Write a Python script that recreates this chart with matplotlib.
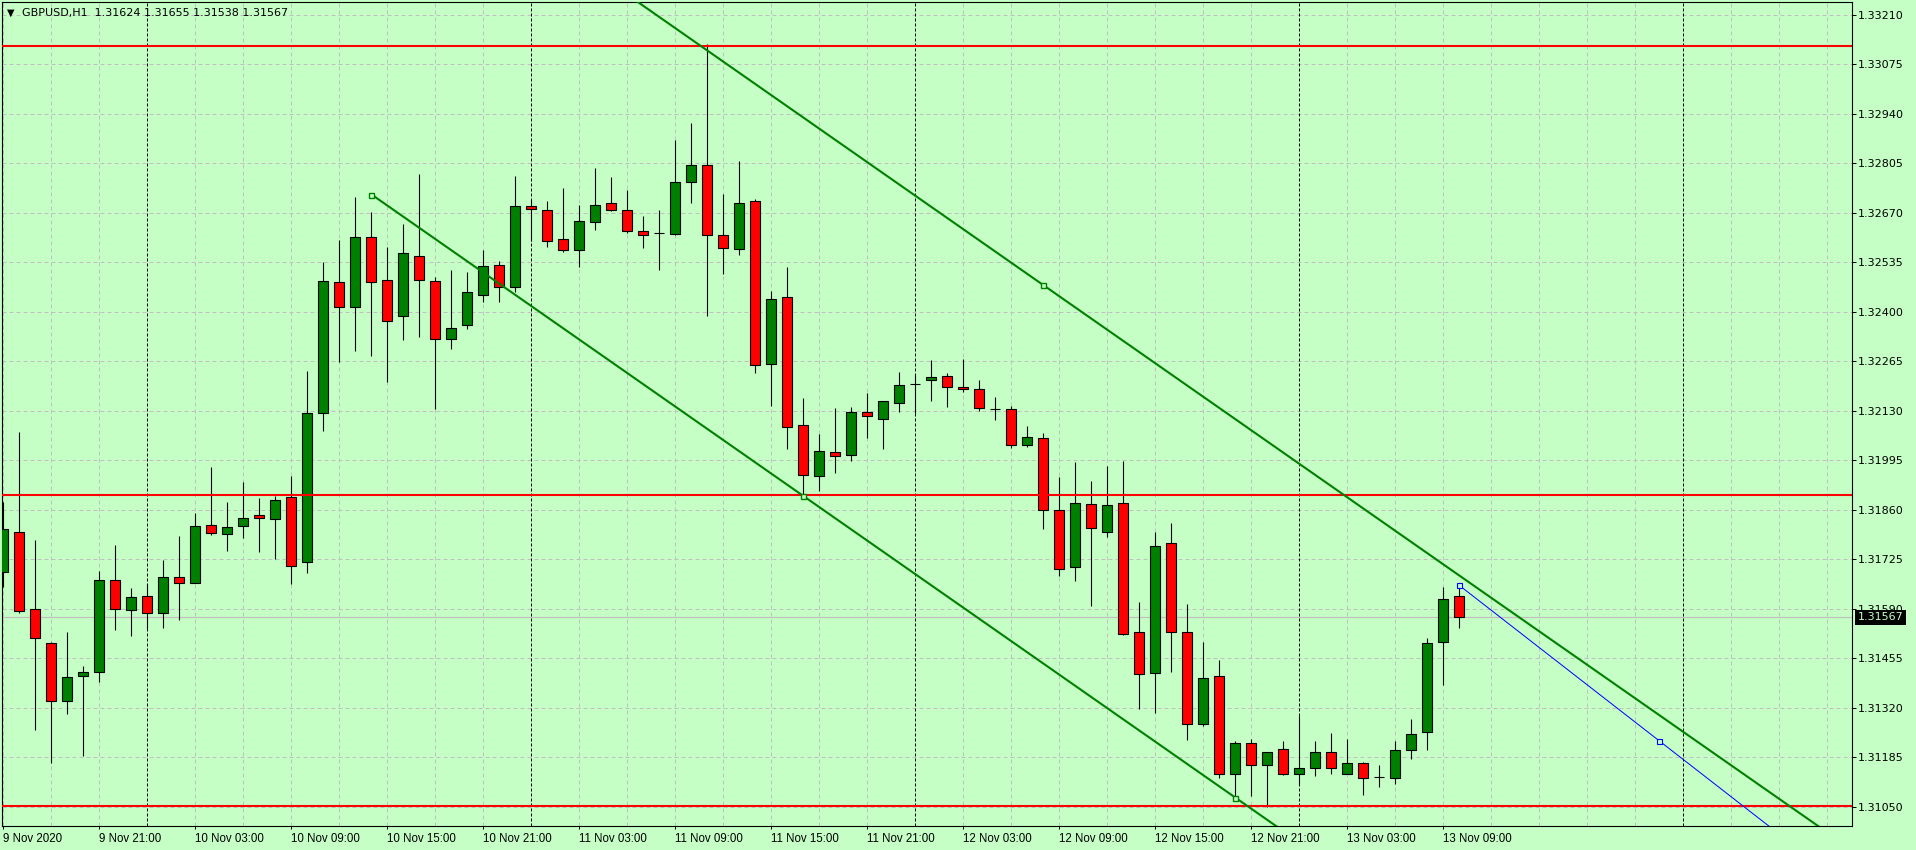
import numpy as np
import matplotlib
matplotlib.use('Agg')
import matplotlib.pyplot as plt
from matplotlib.transforms import blended_transform_factory

# GBPUSD H1, one bar per hour, 9 Nov 2020 15:00 -> 13 Nov 2020 10:00
opens = [1.31691, 1.31800, 1.31590, 1.31496, 1.31338, 1.31406, 1.31417, 1.31668, 1.31586, 1.31624,
         1.31578, 1.31676, 1.31662, 1.31818, 1.31795, 1.31815, 1.31845, 1.31834, 1.31894, 1.31717,
         1.32123, 1.32481, 1.32413, 1.32604, 1.32486, 1.32388, 1.32552, 1.32484, 1.32325, 1.32364,
         1.32445, 1.32527, 1.32468, 1.32688, 1.32677, 1.32598, 1.32568, 1.32645, 1.32696, 1.32677,
         1.32620, 1.32615, 1.32612, 1.32754, 1.32800, 1.32609, 1.32571, 1.32702, 1.32257, 1.32440,
         1.32091, 1.31952, 1.32017, 1.32009, 1.32126, 1.32107, 1.32151, 1.32203, 1.32213, 1.32224,
         1.32194, 1.32189, 1.32136, 1.32134, 1.32036, 1.32055, 1.31859, 1.31705, 1.31875, 1.31799,
         1.31878, 1.31526, 1.31415, 1.31769, 1.31526, 1.31275, 1.31406, 1.31141, 1.31223, 1.31163,
         1.31207, 1.31139, 1.31155, 1.31201, 1.31141, 1.31171, 1.31132, 1.31130, 1.31204, 1.31253,
         1.31501, 1.31624]
highs = [1.31882, 1.32072, 1.31777, 1.31500, 1.31526, 1.31434, 1.31693, 1.31764, 1.31646, 1.31658,
         1.31723, 1.31789, 1.31851, 1.31977, 1.31881, 1.31936, 1.31892, 1.31898, 1.31952, 1.32239,
         1.32536, 1.32596, 1.32714, 1.32672, 1.32577, 1.32639, 1.32776, 1.32494, 1.32514, 1.32508,
         1.32569, 1.32538, 1.32771, 1.32705, 1.32703, 1.32737, 1.32691, 1.32793, 1.32768, 1.32733,
         1.32662, 1.32677, 1.32869, 1.32915, 1.33130, 1.32722, 1.32812, 1.32707, 1.32458, 1.32522,
         1.32164, 1.32066, 1.32137, 1.32141, 1.32179, 1.32157, 1.32236, 1.32230, 1.32269, 1.32233,
         1.32272, 1.32213, 1.32167, 1.32143, 1.32088, 1.32069, 1.31949, 1.31990, 1.31938, 1.31980,
         1.31993, 1.31608, 1.31800, 1.31824, 1.31603, 1.31500, 1.31450, 1.31231, 1.31234, 1.31201,
         1.31231, 1.31297, 1.31231, 1.31251, 1.31234, 1.31173, 1.31163, 1.31231, 1.31289, 1.31512,
         1.31649, 1.31655]
lows = [1.31650, 1.31578, 1.31260, 1.31171, 1.31304, 1.31189, 1.31391, 1.31533, 1.31517, 1.31535,
        1.31539, 1.31560, 1.31660, 1.31792, 1.31749, 1.31784, 1.31746, 1.31726, 1.31659, 1.31689,
        1.32076, 1.32262, 1.32294, 1.32281, 1.32210, 1.32322, 1.32332, 1.32136, 1.32300, 1.32354,
        1.32427, 1.32427, 1.32454, 1.32594, 1.32578, 1.32562, 1.32521, 1.32624, 1.32675, 1.32616,
        1.32575, 1.32515, 1.32610, 1.32698, 1.32388, 1.32502, 1.32556, 1.32234, 1.32144, 1.32027,
        1.31902, 1.31912, 1.31961, 1.31994, 1.32057, 1.32027, 1.32126, 1.32123, 1.32158, 1.32141,
        1.32181, 1.32129, 1.32104, 1.32028, 1.32031, 1.31809, 1.31681, 1.31667, 1.31599, 1.31787,
        1.31519, 1.31318, 1.31307, 1.31419, 1.31233, 1.31272, 1.31130, 1.31076, 1.31080, 1.31050,
        1.31137, 1.31109, 1.31135, 1.31140, 1.31139, 1.31083, 1.31105, 1.31112, 1.31180, 1.31206,
        1.31383, 1.31538]
closes = [1.31807, 1.31584, 1.31510, 1.31338, 1.31403, 1.31417, 1.31668, 1.31589, 1.31622, 1.31578,
          1.31676, 1.31662, 1.31815, 1.31798, 1.31812, 1.31837, 1.31837, 1.31886, 1.31706, 1.32123,
          1.32484, 1.32413, 1.32604, 1.32481, 1.32374, 1.32560, 1.32486, 1.32325, 1.32355, 1.32454,
          1.32524, 1.32468, 1.32688, 1.32680, 1.32593, 1.32568, 1.32647, 1.32691, 1.32677, 1.32620,
          1.32609, 1.32615, 1.32754, 1.32800, 1.32609, 1.32574, 1.32696, 1.32254, 1.32434, 1.32085,
          1.31954, 1.32020, 1.32006, 1.32126, 1.32115, 1.32156, 1.32200, 1.32203, 1.32222, 1.32194,
          1.32189, 1.32137, 1.32136, 1.32036, 1.32058, 1.31859, 1.31698, 1.31878, 1.31810, 1.31872,
          1.31521, 1.31412, 1.31761, 1.31526, 1.31275, 1.31401, 1.31141, 1.31223, 1.31163, 1.31199,
          1.31139, 1.31155, 1.31199, 1.31155, 1.31171, 1.31130, 1.31132, 1.31204, 1.31248, 1.31496,
          1.31616, 1.31567]

time_ticks = [0, 6, 12, 18, 24, 30, 36, 42, 48, 54, 60, 66, 72, 78, 84, 90]
time_labels = ['9 Nov 2020', '9 Nov 21:00', '10 Nov 03:00', '10 Nov 09:00', '10 Nov 15:00',
               '10 Nov 21:00', '11 Nov 03:00', '11 Nov 09:00', '11 Nov 15:00', '11 Nov 21:00',
               '12 Nov 03:00', '12 Nov 09:00', '12 Nov 15:00', '12 Nov 21:00', '13 Nov 03:00',
               '13 Nov 09:00']
day_starts = [9, 33, 57, 81, 105]
price_ticks = [1.33210, 1.33075, 1.32940, 1.32805, 1.32670, 1.32535, 1.32400, 1.32265, 1.32130,
               1.31995, 1.31860, 1.31725, 1.31590, 1.31455, 1.31320, 1.31185, 1.31050]

levels = [1.33124, 1.31900, 1.31052]
chan_bars = [23, 50, 77]
chan_lower = [1.32720, 1.31899, 1.31075]
chan_top_bar = 65
chan_top = 1.32473
ray_bars = [91, 103.5]
ray_prices = [1.31654, 1.31230]
last_price = 1.31567
header = "GBPUSD,H1  1.31624 1.31655 1.31538 1.31567"

BG = '#C6FFC6'
BULL = '#008000'
BEAR = '#FF0000'
GRID = '#C0C0C0'

fig = plt.figure(figsize=(19.16, 8.5), dpi=100, facecolor=BG)
ax = fig.add_axes([2 / 1916, 24 / 850, 1850 / 1916, 824 / 850], facecolor=BG)
ax.set_xlim(-0.08, 115.54)
ax.set_ylim(1.30998, 1.33245)

# grid + day separators
for b in range(0, 116, 3):
    if b in day_starts:
        continue
    ax.axvline(b, color=GRID, lw=0.72, ls=(0, (4, 3)), zorder=0.5)
for b in day_starts:
    ax.axvline(b, color='black', lw=0.72, ls=(0, (3, 2)), zorder=0.7)
for p in price_ticks:
    ax.axhline(p, color=GRID, lw=0.72, ls=(0, (4, 3)), zorder=0.5)
ax.axhline(last_price, color=GRID, lw=0.9, zorder=0.6)

# candles
x = np.arange(len(opens))
o = np.array(opens)
c = np.array(closes)
up = c > o
dn = c < o
dj = c == o
ax.vlines(x, lows, highs, color='black', lw=0.8, zorder=2)
ax.bar(x[up], (c - o)[up], bottom=o[up], width=0.62, color=BULL, edgecolor='black',
       linewidth=0.8, zorder=3)
ax.bar(x[dn], (c - o)[dn], bottom=o[dn], width=0.62, color=BEAR, edgecolor='black',
       linewidth=0.8, zorder=3)
ax.hlines(o[dj], x[dj] - 0.31, x[dj] + 0.31, color='black', lw=0.8, zorder=3)

# horizontal levels
for p in levels:
    ax.axhline(p, color=BEAR, lw=1.5, zorder=4)

# channel
slope, icpt = np.polyfit(chan_bars, chan_lower, 1)
xl = np.array([chan_bars[0], 120])
ax.plot(xl, icpt + slope * xl, color=BULL, lw=1.5, zorder=4)
xu = np.array([-5, 120])
ax.plot(xu, chan_top + slope * (xu - chan_top_bar), color=BULL, lw=1.5, zorder=4)
ax.plot(chan_bars, chan_lower, ls='none', marker='s', ms=3.6, mfc=BG, mec=BULL, mew=1.0, zorder=5)
ax.plot([chan_top_bar], [chan_top], ls='none', marker='s', ms=3.6, mfc=BG, mec=BULL, mew=1.0, zorder=5)

# blue trend ray
rs = (ray_prices[1] - ray_prices[0]) / (ray_bars[1] - ray_bars[0])
xr = np.array([ray_bars[0], 120])
ax.plot(xr, ray_prices[0] + rs * (xr - ray_bars[0]), color='#0000FF', lw=0.72, zorder=4)
ax.plot(ray_bars, ray_prices, ls='none', marker='s', ms=3.6, mfc=BG, mec='#0000FF', mew=0.8, zorder=5)

# axes
ax.yaxis.tick_right()
ax.set_yticks(price_ticks)
ax.set_yticklabels(['%.5f' % p for p in price_ticks])
ax.set_xticks(time_ticks)
ax.set_xticklabels(time_labels)
ax.tick_params(axis='y', direction='out', length=3, width=0.72, pad=1.5, labelsize=8, colors='black')
ax.tick_params(axis='x', direction='out', length=2.5, width=0.72, pad=2.5, labelsize=8.3, colors='black')
for lbl in ax.get_xticklabels():
    lbl.set_horizontalalignment('left')
    lbl.set_fontfamily('Liberation Sans')
for s in ax.spines.values():
    s.set_color('black')
    s.set_linewidth(0.8)

# header
ax.annotate('\u25bc', xy=(0, 1), xycoords='axes fraction', xytext=(6.3, -7.7),
            textcoords='offset points', ha='center', va='center', fontsize=7, color='black')
ax.annotate(header, xy=(0, 1), xycoords='axes fraction', xytext=(14.2, -7.7),
            textcoords='offset points', ha='left', va='center', fontsize=8, color='black')

# last price tag
tr = blended_transform_factory(ax.transAxes, ax.transData)
ax.annotate('%.5f' % last_price, xy=(1, last_price), xycoords=tr, xytext=(4.2, 0),
            textcoords='offset points', ha='left', va='center', fontsize=8, color=BG,
            bbox=dict(boxstyle='square,pad=0.25', fc='black', ec='none'),
            zorder=10, annotation_clip=False)

fig.savefig('out.png', dpi=100, facecolor=BG)
